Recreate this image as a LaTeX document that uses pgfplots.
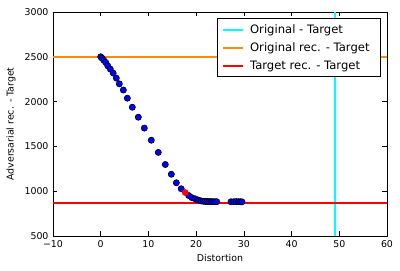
\documentclass[border=0pt]{standalone}
\usepackage{pgfplots}
\pgfplotsset{compat=1.18}
\usepackage{fontspec}
\setmainfont{DejaVu Sans}
\definecolor{mcyan}{RGB}{0,255,255}
\definecolor{morange}{RGB}{255,140,0}
\definecolor{mred}{RGB}{255,0,0}
\definecolor{mblue}{RGB}{0,0,255}
\begin{document}
\begin{tikzpicture}
\begin{axis}[
  at={(0,0)}, anchor=south west,
  scale only axis, width=334pt, height=224pt,
  font=\fontsize{9.4}{11}\selectfont,
  xmin=-10, xmax=60, ymin=500, ymax=3000,
  xtick={-10,0,10,20,30,40,50,60},
  xticklabels={−10,0,10,20,30,40,50,60},
  ytick={500,1000,1500,2000,2500,3000},
  /pgf/number format/assume math mode=true,
  /pgf/number format/set thousands separator={},
  tick align=inside, major tick length=4.5pt,
  tick style={black, line width=0.6pt},
  axis line style={line width=0.8pt},
  tick label style={font=\fontsize{9.4}{11}\selectfont},
  label style={font=\fontsize{9.4}{11}\selectfont},
  xticklabel style={yshift=-1pt},
  yticklabel style={xshift=-1pt},
  xlabel={Distortion}, ylabel={Adversarial rec. - Target},
  every axis x label/.append style={at={(axis description cs:0.5,-0.098)}, anchor=center},
  every axis y label/.append style={at={(axis description cs:-0.126,0.5)}, anchor=center},
  legend cell align=left,
  legend style={at={(rel axis cs:0.982,0.973)}, anchor=north east, draw=black, line width=0.8pt,
    font=\fontsize{11.6}{13}\selectfont, row sep=3.8pt, inner xsep=5pt, inner ysep=4pt,
    nodes={inner xsep=6pt}},
  legend image code/.code={\draw[#1, line width=2pt] (0pt,0pt) -- (20pt,0pt);},
]
\addplot[mcyan, line width=1.8pt] coordinates {(49.1,500) (49.1,3000)};
\addlegendentry{Original - Target}
\addplot[morange, line width=1.8pt] coordinates {(-10,2500) (60,2500)};
\addlegendentry{Original rec. - Target}
\addplot[mred, line width=1.8pt] coordinates {(-10,865) (60,865)};
\addlegendentry{Target rec. - Target}
\addplot[only marks, mark=*, mark size=3.1pt, mark options={fill=mblue, draw=black, line width=0.6pt}, forget plot] coordinates {
(0.0,2500) (0.27,2485) (0.63,2462) (1.05,2437) (1.47,2400) (2.01,2363) (2.62,2318)
(3.27,2262) (3.9,2198) (4.74,2129) (5.58,2038) (6.62,1937) (7.88,1826) (9.14,1704)
(10.6,1569) (12.07,1433) (13.54,1298) (14.8,1189) (15.85,1094) (16.87,1027)
(18.44,952) (19.07,929) (19.77,915)
(20.3,903) (20.7,896) (21.1,891) (21.5,888) (21.9,886) (22.3,885) (22.7,884)
(23.1,884) (23.5,883) (23.9,883) (24.3,883)
(27.3,882) (27.9,883) (28.4,884) (28.9,883) (29.3,882) (29.6,881)
};
\addplot[only marks, mark=*, mark size=3.1pt, mark options={fill=mred, draw=mred}, forget plot] coordinates {(17.71,985)};
\end{axis}
\pgfresetboundingbox
\path (-53pt,-35pt) rectangle (347pt,236pt);
\end{tikzpicture}
\end{document}
